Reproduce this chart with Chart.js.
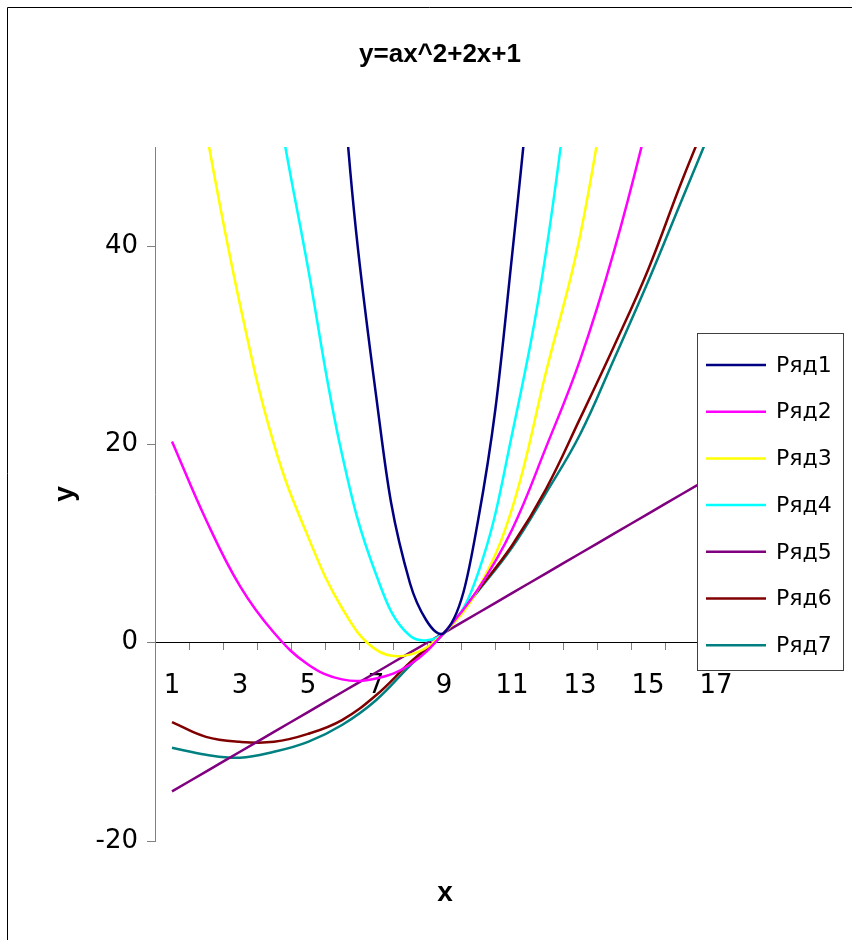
<!DOCTYPE html>
<html>
<head>
<meta charset="utf-8">
<script src="https://cdn.jsdelivr.net/npm/chart.js@4.4.0/dist/chart.umd.min.js"></script>
<style>
  body { margin: 0; background: #fff; }
  canvas { display: block; }
</style>
</head>
<body>
<canvas id="chart" width="852" height="940"></canvas>
<script>
// category axis 1..17 (points above 50 are off the plot, estimated)
const categories = ["1", "2", "3", "4", "5", "6", "7", "8", "9", "10", "11", "12", "13", "14", "15", "16", "17"];
const row1 = [500, 380, 280, 190, 120, 58, 25, 6, 1, 12.3, 39, 77, 135, 210, 300, 405, 530];
const row2 = [20.3, 12.4, 5.7, 1.0, -2.2, -3.7, -3.6, -2.2, 1, 5.4, 11.4, 19.7, 28.5, 39.5, 52.7, 68, 85];
const row3 = [72, 51.7, 34.1, 20.0, 10.7, 3.5, -0.7, -1.2, 1, 5.4, 13.5, 27.3, 41, 61, 82, 106, 132];
const row4 = [160, 120, 85, 57, 37.8, 19, 6.9, 0.7, 1, 7.0, 21.0, 39.4, 66, 95, 130, 170, 215];
const row5 = [-15, -13, -11, -9, -7, -5, -3, -1, 1, 3, 5, 7, 9, 11, 13, 15, 17];
const row6 = [-8.0, -9.5, -10.0, -10.0, -9.2, -7.8, -5.3, -2.0, 1, 5.3, 9.8, 15.5, 22.6, 29.9, 37.6, 46.6, 55];
const row7 = [-10.6, -11.3, -11.6, -11.0, -10.0, -8.3, -5.8, -2.3, 1, 5.2, 9.6, 15.1, 21, 28.6, 36.4, 44.7, 53];
const seriesNames = ["Ряд1", "Ряд2", "Ряд3", "Ряд4", "Ряд5", "Ряд6", "Ряд7"];
const yTicks = [-20, 0, 20, 40];
const chartTitle = "y=ax^2+2x+1";

const colors = ["#000080", "#ff00ff", "#ffff00", "#00ffff", "#800080", "#800000", "#008080"];
const rows = [row1, row2, row3, row4, row5, row6, row7];

const tickFont = { family: "DejaVu Sans", size: 26 };

// white page + the outer frame of the chart object
const framePlugin = {
  id: "frame",
  beforeDraw(chart) {
    const ctx = chart.ctx;
    ctx.save();
    ctx.fillStyle = "#fff";
    ctx.fillRect(0, 0, chart.width, chart.height);
    ctx.strokeStyle = "#000";
    ctx.lineWidth = 1;
    ctx.beginPath();
    ctx.moveTo(7.5, chart.height);
    ctx.lineTo(7.5, 7.5);
    ctx.lineTo(chart.width, 7.5);
    ctx.stroke();
    ctx.restore();
  }
};

// title, x axis title and the legend box that sits over the plot
const overlayPlugin = {
  id: "overlay",
  afterDraw(chart) {
    const ctx = chart.ctx;
    ctx.save();
    ctx.fillStyle = "#000";
    ctx.textAlign = "center";
    ctx.textBaseline = "middle";
    ctx.font = "bold 26px 'Liberation Sans'";
    ctx.fillText(chartTitle, 440, 55);
    ctx.font = "bold 28px 'Liberation Sans'";
    ctx.fillText("x", 445, 893);

    const bx = 697.5, by = 333.5, bw = 146, bh = 337;
    ctx.fillStyle = "#fff";
    ctx.fillRect(bx, by, bw, bh);
    ctx.strokeStyle = "#404040";
    ctx.lineWidth = 1;
    ctx.strokeRect(bx, by, bw, bh);

    ctx.font = "22px 'DejaVu Sans'";
    ctx.textAlign = "left";
    chart.data.datasets.forEach((ds, i) => {
      const y = 365 + i * 46.7;
      ctx.strokeStyle = ds.borderColor;
      ctx.lineWidth = 2.5;
      ctx.beginPath();
      ctx.moveTo(706, y);
      ctx.lineTo(766, y);
      ctx.stroke();
      ctx.fillStyle = "#000";
      ctx.fillText(ds.label, 776, y + 1);
    });
    ctx.restore();
  }
};

new Chart(document.getElementById("chart"), {
  type: "line",
  data: {
    labels: categories,
    datasets: rows.map((r, i) => ({
      label: seriesNames[i],
      data: r,
      borderColor: colors[i],
      backgroundColor: colors[i],
      borderWidth: 2.5,
      pointRadius: 0,
      tension: 0.4,
      capBezierPoints: false,
      fill: false
    }))
  },
  options: {
    responsive: false,
    animation: false,
    devicePixelRatio: 1,
    layout: { padding: { left: 0, right: 119, top: 147, bottom: 99 } },
    plugins: {
      legend: { display: false },
      tooltip: { enabled: false },
      title: { display: false }
    },
    scales: {
      x: {
        type: "category",
        position: { y: 0 },
        offset: true,
        grid: { offset: true, drawOnChartArea: false, tickLength: 7, color: "#808080" },
        border: { color: "#000", width: 1 },
        ticks: {
          autoSkip: false,
          maxRotation: 0,
          padding: 21,
          color: "#000",
          font: tickFont,
          callback: (v, i) => (i % 2 === 0 ? categories[i] : "")
        }
      },
      y: {
        min: -20,
        max: 50,
        afterBuildTicks: (scale) => { scale.ticks = yTicks.map(v => ({ value: v })); },
        afterFit: (scale) => { scale.width = 155; },
        grid: { drawOnChartArea: false, tickLength: 8, color: "#808080" },
        border: { color: "#808080", width: 1 },
        ticks: { padding: 9, color: "#000", font: tickFont },
        title: {
          display: true,
          text: "y",
          color: "#000",
          font: { family: "Liberation Sans", size: 28, weight: "bold" },
          padding: { top: 48, bottom: 0 }
        }
      }
    }
  },
  plugins: [framePlugin, overlayPlugin]
});
</script>
</body>
</html>
